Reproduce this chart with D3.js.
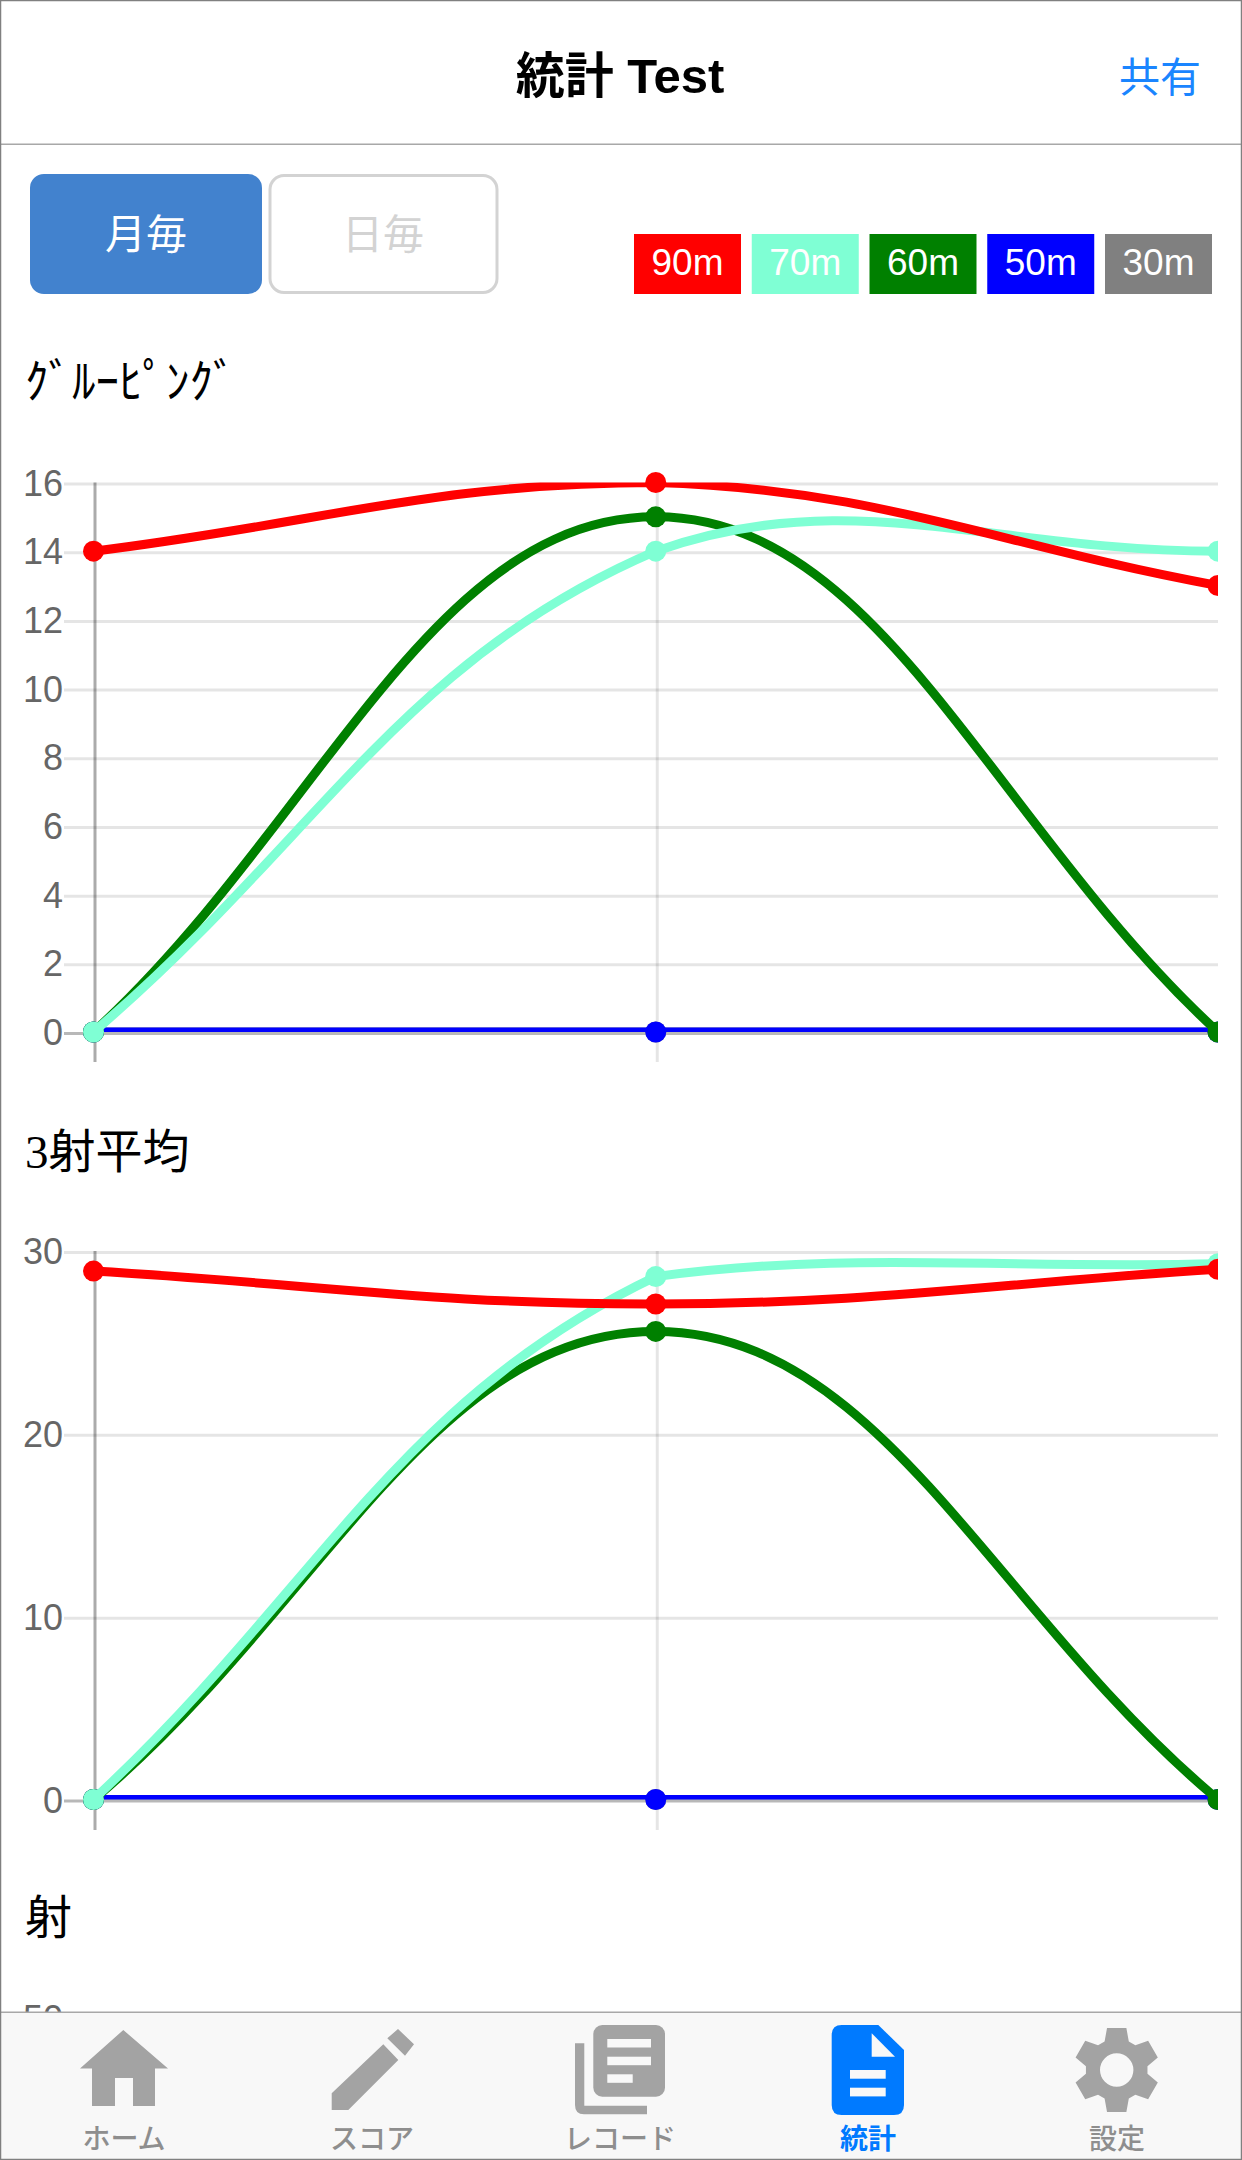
<!DOCTYPE html>
<html>
<head>
<meta charset="utf-8">
<script src="https://cdn.jsdelivr.net/npm/d3@7"></script>
<style>
html, body { margin: 0; padding: 0; background: #fff; overflow: hidden; }
svg { display: block; }
text { font-family: "Liberation Sans", "Noto Sans CJK JP", sans-serif; }
.serif { font-family: "Liberation Serif", "Noto Sans CJK JP", serif; }
</style>
</head>
<body>
<svg id="page" width="1242" height="2160"></svg>
<script>
// values
var periods = ['p1', 'p2', 'p3'];
var seriesNames = ['90m', '70m', '60m', '50m', '30m'];
var seriesColors = ['#ff0000', '#7fffd4', '#008000', '#0000ff', '#808080'];

var group90 = [14, 16, 13];
var group70 = [0, 14, 14];
var group60 = [0, 15, 0];
var group50 = [0, 0, 0];
var group30 = [0, 0, 0];
var groupTicks = [0, 2, 4, 6, 8, 10, 12, 14, 16];

var avg90 = [28.9, 27.1, 29];
var avg70 = [0, 28.6, 29.3];
var avg60 = [0, 25.6, 0];
var avg50 = [0, 0, 0];
var avg30 = [0, 0, 0];
var avgTicks = [0, 10, 20, 30];

var shotTicks = [50];

var tabLabels = ['ホーム', 'スコア', 'レコード', '統計', '設定'];

var svg = d3.select('#page');
var defs = svg.append('defs');

// same spline chart.js uses (tension .4, control points capped to the plot area)
function chartJsCurve(yTop, yBottom) {
	return function(context) {
		var pts;
		function cap(v) { return Math.min(Math.max(v, yTop), yBottom); }
		return {
			lineStart: function() { pts = []; },
			lineEnd: function() {
				var t = 0.4;
				var cps = pts.map(function(p, i) {
					var a = pts[Math.max(i - 1, 0)], b = pts[Math.min(i + 1, pts.length - 1)];
					var d01 = Math.hypot(p[0] - a[0], p[1] - a[1]);
					var d12 = Math.hypot(b[0] - p[0], b[1] - p[1]);
					var fa = t * d01 / (d01 + d12), fb = t * d12 / (d01 + d12);
					return {
						px: p[0] - fa * (b[0] - a[0]), py: cap(p[1] - fa * (b[1] - a[1])),
						nx: p[0] + fb * (b[0] - a[0]), ny: cap(p[1] + fb * (b[1] - a[1]))
					};
				});
				context.moveTo(pts[0][0], pts[0][1]);
				for (var i = 1; i < pts.length; i++) {
					context.bezierCurveTo(cps[i - 1].nx, cps[i - 1].ny, cps[i].px, cps[i].py, pts[i][0], pts[i][1]);
				}
			},
			areaStart: function() {},
			areaEnd: function() {},
			point: function(x, y) { pts.push([x, y]); }
		};
	};
}

function drawChart(id, ticks, series, top, bottom, axisEnd) {
	var x = d3.scalePoint().domain(periods).range([93.5, 1218]);
	var y = d3.scaleLinear().domain([0, d3.max(ticks)]).range([bottom, top]);
	var g = svg.append('g');

	defs.append('clipPath').attr('id', 'area' + id).append('rect')
		.attr('x', 93.5).attr('y', top).attr('width', 1124.5).attr('height', bottom - top);
	defs.append('clipPath').attr('id', 'canvas' + id).append('rect')
		.attr('x', 0).attr('y', 0).attr('width', 1218).attr('height', 2160);

	// horizontal grid, sits 1.5px under the points like in the original
	var yAxis = d3.axisLeft(y).tickValues(ticks).tickSize(-1154).tickPadding(1).offset(0);
	var ya = g.append('g').attr('transform', 'translate(64,1.5)').call(yAxis);
	ya.select('.domain').remove();
	ya.selectAll('line').attr('stroke-width', 3)
		.attr('stroke', function(d) { return d === 0 ? 'rgba(0,0,0,0.28)' : 'rgba(0,0,0,0.1)'; });
	ya.selectAll('text').attr('font-size', 36).attr('fill', '#666')
		.style('font-family', '"Liberation Sans", sans-serif');

	// vertical grid, no line on the last period
	var xAxis = d3.axisBottom(x).tickValues(periods.slice(0, 2)).tickSize(axisEnd - top).tickFormat('').offset(0);
	var xa = g.append('g').attr('transform', 'translate(1.5,' + top + ')').call(xAxis);
	xa.select('.domain').remove();
	xa.selectAll('line').attr('stroke-width', 3)
		.attr('stroke', function(d, i) { return i === 0 ? 'rgba(0,0,0,0.33)' : 'rgba(0,0,0,0.1)'; });

	var line = d3.line()
		.x(function(d, i) { return x(periods[i]); })
		.y(function(d) { return y(d); })
		.curve(chartJsCurve(top, bottom));

	// first series ends up on top
	for (var s = series.length - 1; s >= 0; s--) {
		g.append('path').datum(series[s])
			.attr('d', line)
			.attr('clip-path', 'url(#area' + id + ')')
			.attr('fill', 'none')
			.attr('stroke', seriesColors[s])
			.attr('stroke-width', 9);
		g.append('g').attr('clip-path', 'url(#canvas' + id + ')')
			.selectAll('circle').data(series[s]).enter().append('circle')
			.attr('cx', function(d, i) { return x(periods[i]); })
			.attr('cy', function(d) { return y(d); })
			.attr('r', 10.5)
			.attr('fill', seriesColors[s]);
	}
}

function label(txt, xPos, yPos, size, color, opts) {
	opts = opts || {};
	return svg.append('text').text(txt)
		.attr('x', xPos).attr('y', yPos)
		.attr('font-size', size)
		.attr('fill', color)
		.attr('font-weight', opts.weight || 'normal')
		.attr('text-anchor', opts.anchor || 'middle')
		.attr('class', opts.cls || null);
}

// header
label('統計 Test', 620, 93, 49, '#000', { weight: 'bold' });
label('共有', 1160, 92, 41, '#1a85ff');
svg.append('rect').attr('x', 0).attr('y', 143.5).attr('width', 1242).attr('height', 1.5).attr('fill', '#a8a8a8');

// month / day toggle
svg.append('rect').attr('x', 30).attr('y', 174).attr('width', 232).attr('height', 120).attr('rx', 14).attr('fill', '#4282ce');
label('月毎', 146, 249, 41, '#fff');
svg.append('rect').attr('x', 270).attr('y', 175.5).attr('width', 227).attr('height', 117).attr('rx', 14)
	.attr('fill', '#fff').attr('stroke', '#d3d3d3').attr('stroke-width', 3);
label('日毎', 383, 249, 41, '#d3d3d3');

// legend boxes
var legendX = d3.scalePoint().domain(seriesNames).range([634, 1105]);
seriesNames.forEach(function(n, i) {
	svg.append('rect').attr('x', legendX(n)).attr('y', 234).attr('width', 107).attr('height', 60).attr('fill', seriesColors[i]);
	label(n, legendX(n) + 53.5, 275, 37, '#fff');
});

// charts
label('ｸﾞﾙｰﾋﾟﾝｸﾞ', 25, 398, 47, '#000', { anchor: 'start', cls: 'serif' });
drawChart(1, groupTicks, [group90, group70, group60, group50, group30], 482.5, 1032, 1062);

label('3射平均', 25, 1168, 47, '#000', { anchor: 'start', cls: 'serif' });
drawChart(2, avgTicks, [avg90, avg70, avg60, avg50, avg30], 1251, 1799.5, 1830);

label('射', 25, 1934, 47, '#000', { anchor: 'start', cls: 'serif' });
drawChart(3, shotTicks, [], 2017.5, 2567, 2600);

// tab bar
svg.append('rect').attr('x', 0).attr('y', 2012).attr('width', 1242).attr('height', 148).attr('fill', '#f8f8f8');
svg.append('rect').attr('x', 0).attr('y', 2011.5).attr('width', 1242).attr('height', 1.5).attr('fill', '#a8a8a8');

var iconGrey = '#a3a3a3', iconBlue = '#007aff', barBg = '#f8f8f8';

// home
svg.append('path').attr('fill', iconGrey)
	.attr('d', 'M123.3 2030L168 2068.5H155V2106H133V2078H115V2106H92V2068.5H80Z');
// pencil
svg.append('path').attr('fill', iconGrey)
	.attr('d', 'M398 2029L414 2044.3L405 2055.7L387.3 2038.3Z M383.3 2044.3L398.3 2060L348.3 2110H331.7V2093.3Z');
// records
svg.append('rect').attr('x', 593.3).attr('y', 2025).attr('width', 71.7).attr('height', 71.7).attr('rx', 9).attr('fill', iconGrey);
[[2039, 43.7], [2056.7, 43.7], [2074.3, 25.4]].forEach(function(r) {
	svg.append('rect').attr('x', 607.3).attr('y', r[0]).attr('width', r[1]).attr('height', 8.5).attr('fill', barBg);
});
svg.append('path').attr('fill', iconGrey)
	.attr('d', 'M575 2043.3H584.3V2105.7H647V2114.3H584Q575 2114.3 575 2105Z');
// stats document
svg.append('path').attr('fill', iconBlue)
	.attr('d', 'M841.7 2025H878.3L904 2050V2105Q904 2115 894 2115H841.7Q831.7 2115 831.7 2105V2035Q831.7 2025 841.7 2025Z');
svg.append('path').attr('fill', barBg).attr('d', 'M871.7 2033.3V2056.7H895Z');
[2070, 2087.7].forEach(function(yy) {
	svg.append('rect').attr('x', 850).attr('y', yy).attr('width', 35.7).attr('height', 8.7).attr('fill', barBg);
});
// gear
var gear = d3.path();
d3.range(6).forEach(function(i) {
	var a = (i * 60 - 90) * Math.PI / 180;
	var pts = [[31, -23], [43, -13], [43, 13], [31, 23]];
	pts.forEach(function(p, j) {
		var b = a + p[1] * Math.PI / 180;
		var px = 1116.7 + p[0] * Math.cos(b), py = 2070 + p[0] * Math.sin(b);
		if (i === 0 && j === 0) gear.moveTo(px, py); else gear.lineTo(px, py);
	});
});
gear.closePath();
gear.moveTo(1133.4, 2070);
gear.arc(1116.7, 2070, 16.7, 0, Math.PI * 2);
gear.closePath();
svg.append('path').attr('d', gear.toString()).attr('fill', iconGrey).attr('fill-rule', 'evenodd');

var tabX = [124, 372, 620, 868, 1117];
tabLabels.forEach(function(t, i) {
	label(t, tabX[i], 2149, 28, i === 3 ? iconBlue : '#8e8e8e', { weight: i === 3 ? 'bold' : 500 });
});

// screenshot frame
svg.append('rect').attr('x', 0.5).attr('y', 0.5).attr('width', 1241).attr('height', 2159)
	.attr('fill', 'none').attr('stroke', '#808080').attr('stroke-width', 1.5);
</script>
</body>
</html>
